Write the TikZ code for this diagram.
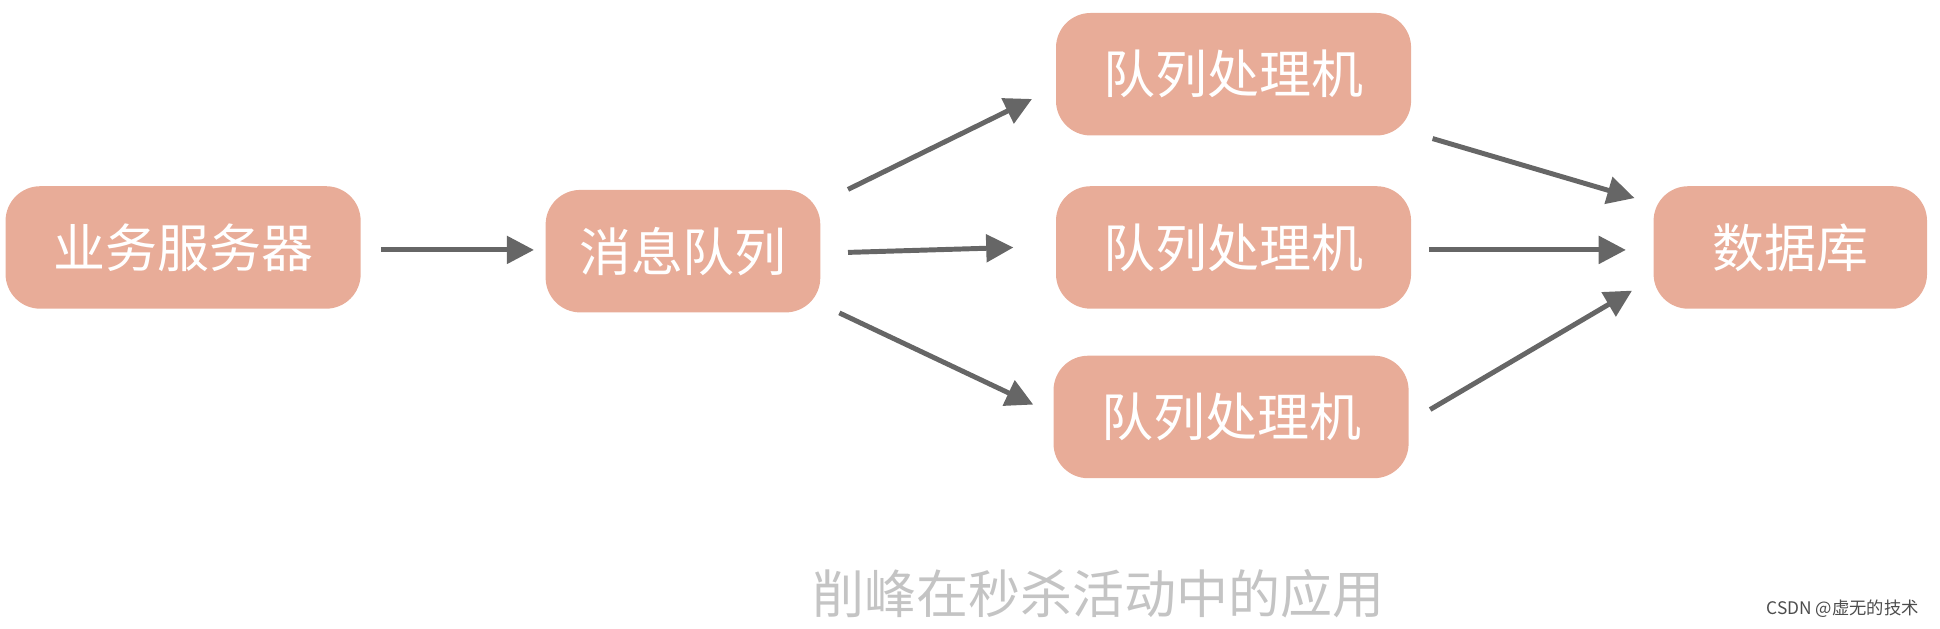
\documentclass[tikz,border=0pt]{standalone}
\usepackage{fontspec}
\newfontfamily\cjk{Noto Sans CJK SC}
\usetikzlibrary{arrows.meta}
\definecolor{boxc}{HTML}{E8AC98}
\definecolor{arrc}{HTML}{666666}
\definecolor{capc}{HTML}{C4C4C4}
\tikzset{
  box/.style={fill=boxc, rounded corners=14pt, text=white, font=\cjk\fontsize{21}{24}\selectfont, minimum height=49.5pt, inner sep=0pt},
  arr/.style={draw=arrc, line width=2pt, -{Triangle[length=11pt,width=11pt]}}
}
\begin{document}
\begin{tikzpicture}[x=0.5pt,y=-0.5pt]
\useasboundingbox (0,0) rectangle (1568,508);
\node[box, minimum width=143.5pt] (srv) at (148,200) {业务服务器};
\node[box, minimum width=111pt] (mq) at (552,203) {消息队列};
\node[box, minimum width=143.5pt] (p1) at (997,60) {队列处理机};
\node[box, minimum width=143.5pt] (p2) at (997,200) {队列处理机};
\node[box, minimum width=143.5pt] (p3) at (995,337) {队列处理机};
\node[box, minimum width=110.5pt] (db) at (1447,200) {数据库};
\node[font=\cjk\fontsize{21}{24}\selectfont, text=capc] (cap) at (888,480) {削峰在秒杀活动中的应用};
\node[font=\cjk\fontsize{7}{8}\selectfont, text=black!70, anchor=east] (csdn) at (1558,492) {CSDN @虚无的技术};
\draw[arr] ([xshift=8pt,yshift=-1pt]srv.east) -- ([xshift=-4.5pt,yshift=0.5pt]mq.west);
\draw[arr] ([xshift=11pt]mq.north east) -- ([xshift=-9.5pt,yshift=-10pt]p1.west);
\draw[arr] ([xshift=11pt,yshift=-0.5pt]mq.east) -- ([xshift=-17pt]p2.west);
\draw[arr] ([xshift=7.5pt]mq.south east) -- ([xshift=-8pt,yshift=5pt]p3.west);
\draw[arr] ([xshift=8.5pt,yshift=-26pt]p1.east) -- ([xshift=-7.5pt,yshift=-5pt]db.north west);
\draw[arr] ([xshift=7pt,yshift=-1pt]p2.east) -- ([xshift=-11pt,yshift=-1pt]db.west);
\draw[arr] ([xshift=8.5pt,yshift=3pt]p3.east) -- ([xshift=-8.5pt,yshift=7.5pt]db.south west);
\end{tikzpicture}
\end{document}
